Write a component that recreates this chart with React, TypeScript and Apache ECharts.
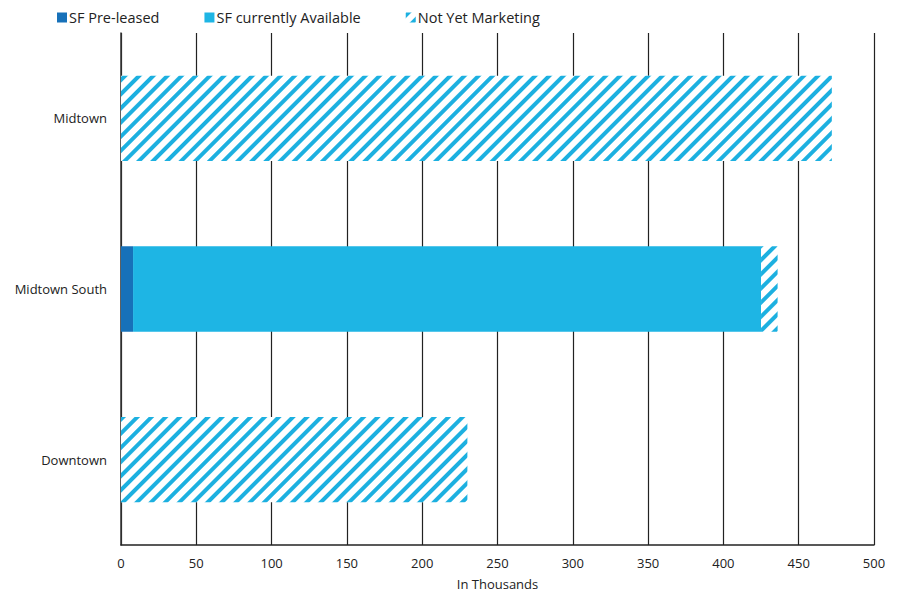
import React, { useEffect, useRef } from "react";
import * as echarts from "echarts";

const categories = ["Midtown", "Midtown South", "Downtown"];
const preLeased = [0, 8, 0];
const available = [0, 417, 0];
const notYetMarketing = [472, 11, 230];
const xTicks = [0, 500, 50];
const seriesNames = ["SF Pre-leased", "SF currently Available", "Not Yet Marketing"];

export default function App() {
  const ref = useRef<HTMLDivElement>(null);
  useEffect(() => {
    if (!ref.current) return;
    const chart = echarts.init(ref.current, null, { renderer: "svg" });
    const font = "'Open Sans', 'Noto Sans', sans-serif";
    chart.setOption({
      animation: false,
      textStyle: { fontFamily: font },
      legend: {
        left: 52,
        top: 5,
        itemWidth: 10,
        itemHeight: 10,
        itemGap: 45,
        icon: "rect",
        textStyle: { fontSize: 14.5, color: "#222", fontFamily: font, padding: [0, 0, 0, -3] },
        data: seriesNames,
      },
      grid: {
        left: 121,
        right: 28,
        top: 33,
        bottom: 47,
        containLabel: false,
        outerBoundsMode: "none",
      },
      xAxis: {
        type: "value",
        min: xTicks[0],
        max: xTicks[1],
        interval: xTicks[2],
        name: "In Thousands",
        nameLocation: "middle",
        nameGap: 32,
        nameTextStyle: { fontSize: 13, color: "#222", fontFamily: font },
        axisLine: { show: true, lineStyle: { color: "#222", width: 1.5 } },
        axisTick: { show: false },
        axisLabel: { fontSize: 13, color: "#222", margin: 11, fontFamily: font },
        splitLine: { show: true, lineStyle: { color: "#222", width: 1.2 } },
      },
      yAxis: {
        type: "category",
        inverse: true,
        data: categories,
        axisLine: { show: true, lineStyle: { color: "#333", width: 1.5 } },
        axisTick: { show: false },
        axisLabel: { fontSize: 13, color: "#222", margin: 14, fontFamily: font },
        splitLine: { show: false },
      },
      series: [
        {
          name: seriesNames[0],
          type: "bar",
          stack: "total",
          barCategoryGap: "50%",
          data: preLeased,
          itemStyle: { color: "#1771b9" },
        },
        {
          name: seriesNames[1],
          type: "bar",
          stack: "total",
          barCategoryGap: "50%",
          data: available,
          itemStyle: { color: "#1eb5e4" },
        },
        {
          name: seriesNames[2],
          type: "bar",
          stack: "total",
          barCategoryGap: "50%",
          data: notYetMarketing,
          itemStyle: {
            color: "#ffffff",
            decal: {
              symbol: "rect",
              symbolSize: 1,
              color: "#1cb0e0",
              backgroundColor: "#ffffff",
              dashArrayX: [1, 0],
              dashArrayY: [4, 6],
              rotation: -Math.PI / 4,
            },
          },
        },
      ],
    });
    return () => chart.dispose();
  }, []);
  return (
    <div
      ref={ref}
      style={{ position: "absolute", left: 0, top: 0, width: 902, height: 592 }}
    />
  );
}
